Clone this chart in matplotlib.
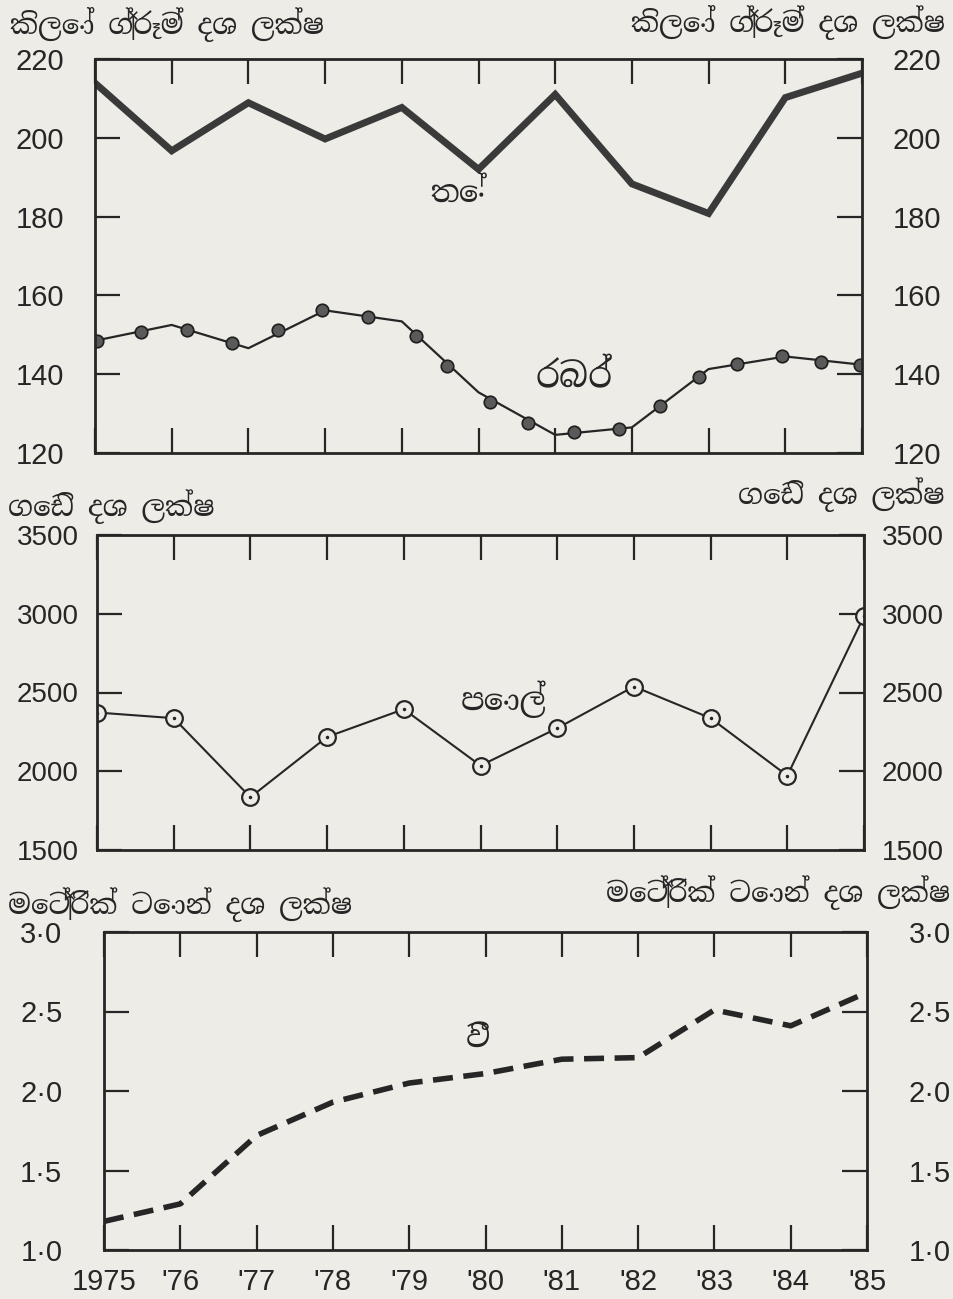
import matplotlib
matplotlib.use("Agg")
import matplotlib.pyplot as plt
from matplotlib import font_manager

# data
years = list(range(1975, 1986))
year_labels = ["1975", "'76", "'77", "'78", "'79", "'80", "'81", "'82", "'83", "'84", "'85"]

tea = [213.9, 196.7, 208.9, 199.7, 207.7, 192.0, 211.0, 188.3, 180.8, 210.2, 216.4]
rubber = [148.5, 152.5, 146.6, 156.2, 153.4, 135.4, 124.6, 126.5, 141.3, 144.5, 142.4]
rubber_dot_years = [1975.02, 1975.6, 1976.2, 1976.78, 1977.39, 1977.96, 1978.56, 1979.18, 1979.59,
                    1980.15, 1980.65, 1981.24, 1981.83, 1982.37, 1982.87, 1983.37, 1983.96, 1984.46, 1984.98]
rubber_dot_values = [148.5, 150.8, 151.3, 147.9, 151.1, 156.2, 154.5, 149.8, 142.1,
                     133.0, 127.7, 125.4, 126.0, 131.9, 139.4, 142.6, 144.5, 143.2, 142.4]
coconut = [2373, 2337, 1835, 2218, 2394, 2036, 2273, 2538, 2337, 1972, 2985]
paddy = [1.18, 1.29, 1.72, 1.93, 2.05, 2.11, 2.20, 2.21, 2.51, 2.41, 2.62]

ticks1 = [120, 140, 160, 180, 200, 220]
ticks2 = [1500, 2000, 2500, 3000, 3500]
ticks3 = [1.0, 1.5, 2.0, 2.5, 3.0]
tick3_labels = ["1·0", "1·5", "2·0", "2·5", "3·0"]

unit1 = "කිලෝ ග්‍රෑම් දශ ලක්ෂ"
unit2 = "ගෙඩි දශ ලක්ෂ"
unit3 = "මෙට්‍රික් ටොන් දශ ලක්ෂ"

# pick fonts that are really there
names = set(f.name for f in font_manager.fontManager.ttflist)
sinhala = [n for n in names if "Sinhala" in n]
num_fam = [n for n in ["Liberation Sans Narrow", "Liberation Sans", "DejaVu Sans"] if n in names]
sin_fam = sinhala + [n for n in ["Noto Sans", "DejaVu Sans"] if n in names]

paper = "#eeece7"
ink = "#262626"
W, H = 954, 1299
fig = plt.figure(figsize=(W / 100, H / 100), dpi=100, facecolor=paper)


def box(l, t, r, b):
    return [l / W, 1 - b / H, (r - l) / W, (b - t) / H]


def style(ax, yt, ylabels=None, bottom_labels=False, ypad=22, ysize=21):
    ax.set_facecolor(paper)
    ax.set_xlim(1975, 1985)
    for s in ax.spines.values():
        s.set_linewidth(2.0)
        s.set_color(ink)
    ax.set_yticks(yt)
    if ylabels is not None:
        ax.set_yticklabels(ylabels)
    ax.set_xticks(years)
    if bottom_labels:
        ax.set_xticklabels(year_labels)
    else:
        ax.set_xticklabels([])
    ax.tick_params(axis="y", direction="in", length=18, width=1.6, color=ink,
                   left=True, right=True, labelleft=True, labelright=True, pad=ypad,
                   labelsize=ysize, labelcolor=ink)
    ax.tick_params(axis="x", direction="in", length=18, width=1.6, color=ink,
                   top=True, bottom=True, labelsize=21, labelcolor=ink, pad=13)
    for lab in ax.get_xticklabels() + ax.get_yticklabels():
        lab.set_family(num_fam)


# panel 1: tea and rubber
ax1 = fig.add_axes(box(95, 59, 862, 453))
ax1.plot(years, tea, color="#3a3a3a", lw=5, solid_joinstyle="miter")
ax1.plot(years, rubber, color=ink, lw=1.6)
ax1.plot(rubber_dot_years, rubber_dot_values, "o", ms=9, mfc="#5a5a5a", mec="#1e1e1e", mew=1.2)
ax1.set_ylim(120, 220)
style(ax1, ticks1)
ax1.text(1979.75, 186, "තේ", fontsize=22, fontweight="bold", family=sin_fam, ha="center", va="center", color=ink)
ax1.text(1981.25, 139, "රබර්", fontsize=25, family=sin_fam, ha="center", va="center", color=ink)

# panel 2: coconut
ax2 = fig.add_axes(box(97, 535, 864, 850))
ax2.plot(years, coconut, color=ink, lw=1.5, marker="o", ms=12, mfc=paper, mec=ink, mew=1.6)
ax2.plot(years, coconut, ".", color=ink, ms=3)
ax2.set_ylim(1500, 3500)
style(ax2, ticks2, ypad=13, ysize=20)
ax2.text(1980.3, 2460, "පොල්", fontsize=22, fontweight="bold", family=sin_fam, ha="center", va="center", color=ink)

# panel 3: paddy
ax3 = fig.add_axes(box(104, 932, 867, 1250))
ax3.plot(years, paddy, color=ink, lw=4, dashes=(3.6, 1.9), dash_capstyle="butt")
ax3.set_ylim(1.0, 3.0)
style(ax3, ticks3, tick3_labels, bottom_labels=True, ypad=30)
ax3.text(1979.9, 2.33, "වී", fontsize=22, fontweight="bold", family=sin_fam, ha="center", va="center", color=ink)

# unit headings, left and right of each panel
heads = [(unit1, 10, 25, 945, 22), (unit2, 8, 507, 945, 495), (unit3, 8, 905, 950, 893)]
for txt, xl, yl, xr, yr in heads:
    fig.text(xl / W, 1 - yl / H, txt, fontsize=20, fontweight="bold", family=sin_fam,
             ha="left", va="center", color=ink)
    fig.text(xr / W, 1 - yr / H, txt, fontsize=20, fontweight="bold", family=sin_fam,
             ha="right", va="center", color=ink)

fig.savefig("out.png", dpi=100, facecolor=paper)
